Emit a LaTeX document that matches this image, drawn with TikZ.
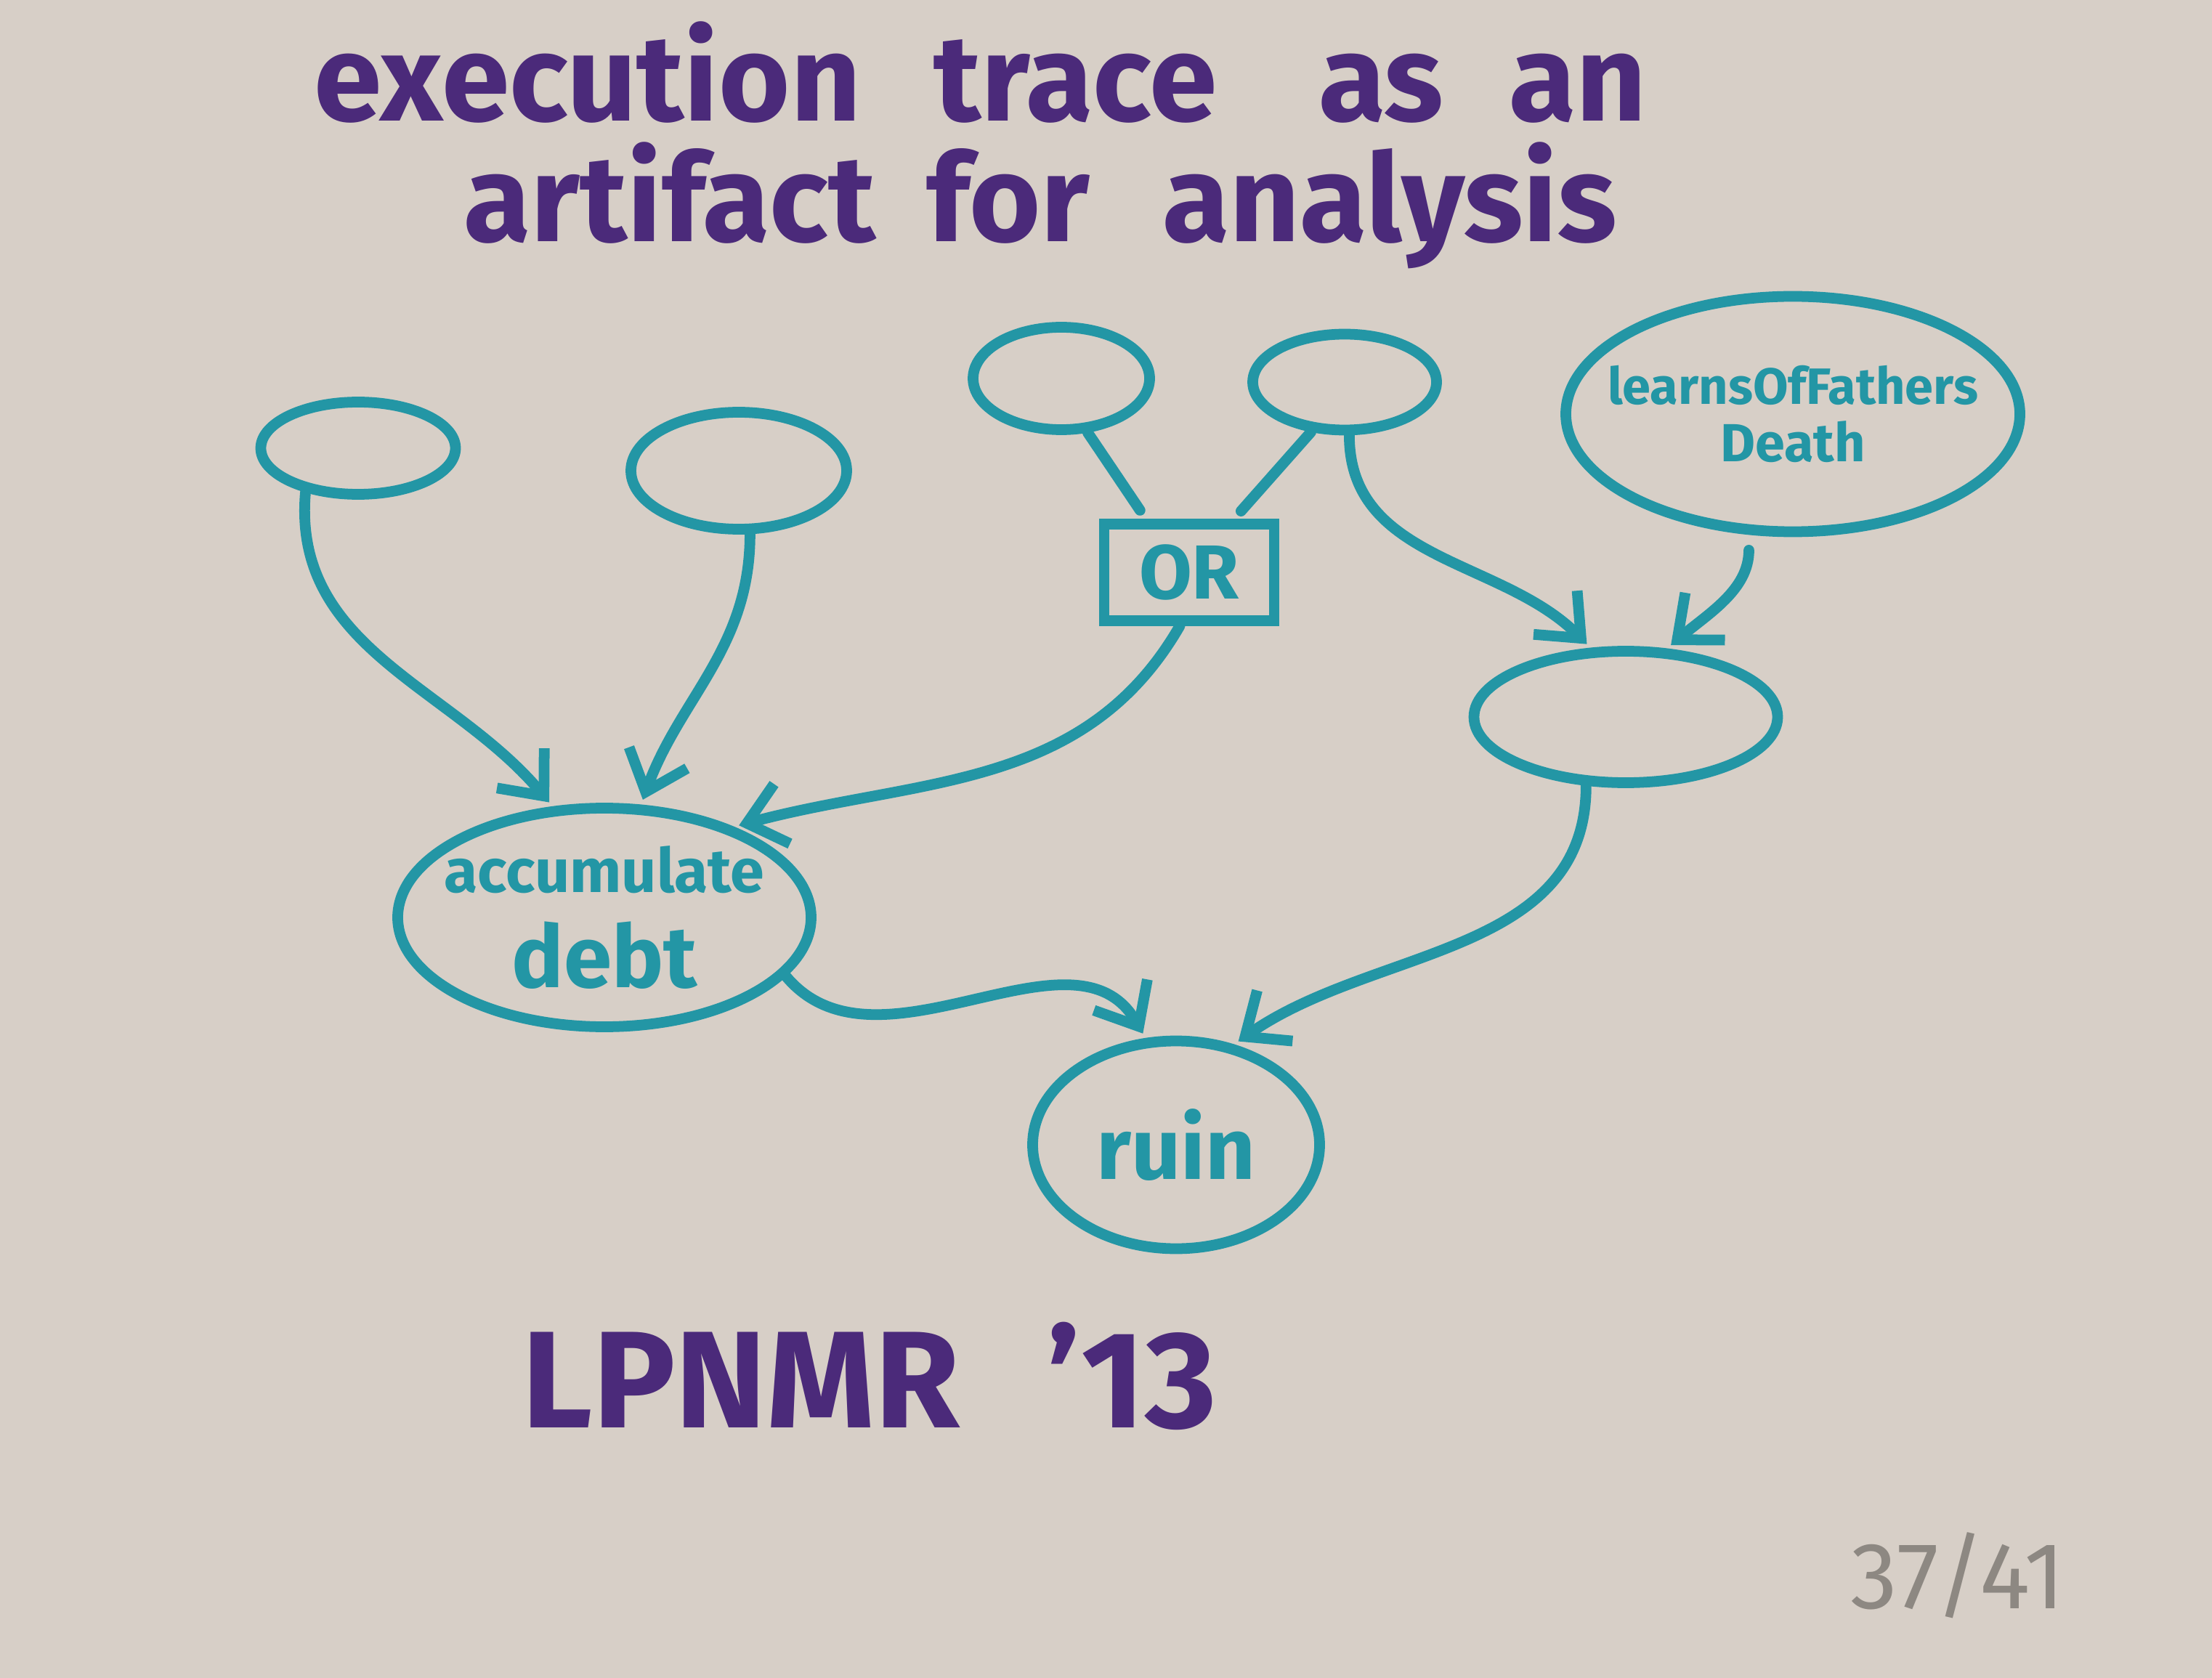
\documentclass[tikz,border=0pt]{standalone}
\usepackage{fontspec}
\setmainfont{Fira Sans}
\usetikzlibrary{arrows.meta,shapes.geometric,positioning}

\definecolor{ink}{HTML}{2396A5}
\definecolor{pen}{HTML}{4B2A7A}
\definecolor{paper}{HTML}{D7CFC7}
\definecolor{pencil}{HTML}{8D8882}

\newcommand{\fs}[1]{\fontsize{#1}{1.15\dimexpr#1pt\relax}\selectfont}

\begin{document}
\begin{tikzpicture}[->,>={Straight Barb[length=5mm,width=8.5mm]},shorten >=2pt,
  every edge/.append style={draw=ink,line width=4.2pt,line cap=round},
  event/.style={ellipse,draw=ink,line width=4.2pt,text=ink,align=center,
    inner sep=0pt,inner xsep=-1cm,font=\bfseries},
  gate/.style={rectangle,draw=ink,line width=4.2pt,text=ink,font=\bfseries\fs{30}},
  title/.style={text=pen,font=\bfseries\fs{48},anchor=base,inner sep=0pt}]

\fill[paper] (0,0) rectangle (30.45,-23.10);
\useasboundingbox (0,0) rectangle (30.45,-23.10);

\node[title] (title_1) at (13.5,-1.67)
  {execution\hspace{1cm}trace\hspace{1.4cm}as\hspace{0.9cm}an};
\node[title] (title_2) at (14.32,-3.33)
  {artifact\hspace{0.7cm}for\hspace{1cm}analysis};

\node[event,minimum width=2.68cm,minimum height=1.27cm] (e_1) at (4.93,-6.17) {};
\node[event,minimum width=2.97cm,minimum height=1.61cm] (e_2) at (10.17,-6.48) {};
\node[event,minimum width=2.43cm,minimum height=1.41cm] (e_3) at (14.61,-5.21) {};
\node[event,minimum width=2.53cm,minimum height=1.32cm] (e_4) at (18.51,-5.26) {};
\node[event,minimum width=6.25cm,minimum height=3.24cm] (lofd) at (24.68,-5.70)
  {\fs{20}learnsOfFathers\\[5pt]\fs{21}Death};
\node[gate,minimum width=2.34cm,minimum height=1.33cm] (or) at (16.37,-7.88) {OR};
\node[event,minimum width=4.18cm,minimum height=1.81cm] (e_5) at (22.38,-9.87) {};
\node[event,minimum width=5.69cm,minimum height=3.01cm] (debt) at (8.32,-12.63)
  {\fs{24}accumulate\\[10pt]\fs{34}debt};
\node[event,minimum width=3.95cm,minimum height=2.86cm] (ruin) at (16.19,-15.76)
  {\fs{34}ruin};

\path (e_1.220) edge[out=-95,in=130] (debt.115)
  (e_2.-80) edge[out=-90,in=70] (debt.72)
  (or.-100) edge[out=-120,in=15] (debt.35)
  (e_3.-64) edge[-,shorten >=4pt] (or.129)
  (e_4.-124) edge[-,shorten >=4pt] (or.50)
  (e_4.-85) edge[out=-90,in=135] (e_5.117)
  (lofd.-110) edge[out=-90,in=40,shorten <=6pt] (e_5.59)
  (debt.-18) edge[out=-50,in=120] (ruin.106)
  (e_5.-120) edge[out=-90,in=35] (ruin.60);

\node[text=pen,font=\bfseries\fs{54},anchor=base west,inner sep=0pt] (conf)
  at (7.18,-19.65) {LPNMR\hspace{1.2cm}’13};
\node[text=pencil,font=\fs{37},anchor=base,inner sep=0pt] (page)
  at (26.95,-22.14) {37/41};

\end{tikzpicture}
\end{document}
